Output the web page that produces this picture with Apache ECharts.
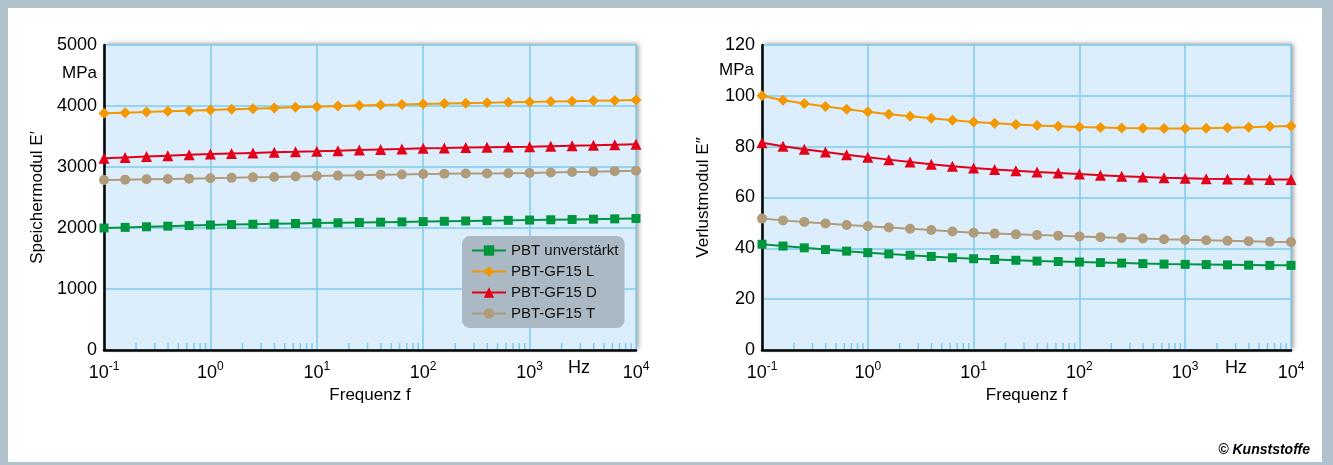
<!DOCTYPE html>
<html><head><meta charset="utf-8">
<script src="https://cdn.jsdelivr.net/npm/echarts@6/dist/echarts.min.js"></script>
<style>html,body{margin:0;padding:0;background:#fff}#c{width:1333px;height:465px}</style>
</head><body><div id="c"></div>
<script>
// ---- data ----
const freq = [0.1,0.158,0.251,0.398,0.631,1,1.58,2.51,3.98,6.31,10,15.8,25.1,39.8,63.1,100,158,251,398,631,1000,1580,2510,3980,6310,10000];
const minorTicks = [0.2,0.3,0.4,0.5,0.6,0.7,0.8,0.9, 2,3,4,5,6,7,8,9, 20,30,40,50,60,70,80,90, 200,300,400,500,600,700,800,900, 2000,3000,4000,5000,6000,7000,8000,9000];
const seriesNames = ['PBT unverstärkt','PBT-GF15 L','PBT-GF15 D','PBT-GF15 T'];
// Speichermodul E' (MPa)
const storGreen  = [2000,2010,2020,2030,2040,2050,2056,2062,2068,2074,2080,2085,2090,2095,2100,2105,2110,2115,2120,2125,2130,2135,2140,2145,2150,2155];
const storOrange = [3880,3891,3902,3912,3923,3934,3945,3956,3967,3978,3989,3998,4007,4016,4025,4033,4040,4047,4053,4060,4066,4072,4079,4085,4092,4098];
const storRed    = [3143,3157,3171,3185,3199,3213,3222,3231,3240,3248,3257,3267,3277,3287,3297,3307,3312,3318,3323,3328,3333,3341,3349,3356,3364,3372];
const storTan    = [2787,2793,2798,2804,2809,2815,2822,2830,2837,2845,2852,2859,2865,2872,2878,2885,2888,2892,2895,2899,2902,2909,2917,2924,2932,2939];
// Verlustmodul E'' (MPa)
const lossGreen  = [41.6,40.9,40.2,39.5,38.9,38.3,37.8,37.3,36.8,36.3,35.9,35.6,35.3,35.0,34.8,34.6,34.4,34.2,34.0,33.8,33.7,33.6,33.5,33.4,33.3,33.3];
const lossOrange = [100,98.3,97.0,95.8,94.7,93.7,92.8,92.0,91.2,90.4,89.7,89.2,88.7,88.3,88.0,87.7,87.5,87.3,87.2,87.1,87.1,87.2,87.4,87.6,87.9,88.1];
const lossRed    = [81.5,80.2,79.0,77.9,76.8,75.8,74.9,74.0,73.1,72.3,71.6,71.0,70.5,70.0,69.6,69.2,68.8,68.4,68.1,67.8,67.6,67.4,67.3,67.2,67.1,67.1];
const lossTan    = [51.7,51.0,50.4,49.8,49.2,48.7,48.2,47.7,47.2,46.6,46.1,45.8,45.5,45.2,45.0,44.7,44.4,44.1,43.9,43.6,43.4,43.2,43.0,42.8,42.6,42.5];
const leftYTicks = {min:0, max:5000, interval:1000};
const rightYTicks = {min:0, max:120, interval:20};

// ---- styling ----
const FONT = '"Liberation Sans Narrow","Liberation Sans",Arial,sans-serif';
const colors = ['#00963f','#f39800','#e2001a','#b09c7a'];
const symbols = ['rect','diamond','triangle','circle'];
const symSizes = [9,11,11,10];
const gridLine = '#7ccbee';

function pairs(vals){ return freq.map((f,i)=>[f, vals[i]]); }

function xAxis(gi){
  return {
    type:'log', logBase:10, min:0.1, max:10000, splitNumber:5, gridIndex:gi,
    axisLine:{show:true, onZero:false, lineStyle:{color:'#000', width:2.5}},
    axisTick:{show:false},
    splitLine:{show:true, lineStyle:{color:gridLine, width:1.5}},
    axisLabel:{
      margin:10, color:'#000',
      formatter:function(v){ const e=Math.round(Math.log10(v)); return '{a|10}{s|'+e+'}'; },
      rich:{ a:{fontSize:18, fontFamily:FONT, color:'#000', verticalAlign:'bottom', lineHeight:22},
             s:{fontSize:12, fontFamily:FONT, color:'#000', verticalAlign:'bottom', lineHeight:22, padding:[0,0,9,0]} }
    },
    name:'Frequenz f', nameLocation:'middle', nameGap:37,
    nameTextStyle:{fontSize:17, fontFamily:FONT, color:'#000'}
  };
}
function yAxis(gi, t, name, gap){
  return {
    type:'value', gridIndex:gi, min:t.min, max:t.max, interval:t.interval,
    axisLine:{show:true, lineStyle:{color:'#000', width:2.5}},
    axisTick:{show:false},
    splitLine:{show:true, lineStyle:{color:gridLine, width:1.5}},
    axisLabel:{fontSize:18, fontFamily:FONT, color:'#000', margin:7, formatter:function(v){ return String(v); }},
    name:name, nameLocation:'middle', nameGap:gap, nameRotate:90,
    nameTextStyle:{fontSize:17, fontFamily:FONT, color:'#000'}
  };
}
function lineSeries(idx, vals, gi){
  return {
    name:seriesNames[idx], type:'line', xAxisIndex:gi, yAxisIndex:gi,
    data:pairs(vals), symbol:symbols[idx], symbolSize:symSizes[idx], showSymbol:true,
    color:colors[idx], lineStyle:{width:2, color:colors[idx]}, itemStyle:{color:colors[idx]},
    z:5, animation:false
  };
}
function minorSeries(gi){
  return {
    type:'custom', xAxisIndex:gi, yAxisIndex:gi, silent:true, z:3, animation:false,
    data:minorTicks.map(f=>[f,0]),
    renderItem:function(params, api){
      const p = api.coord([api.value(0), 0]);
      return {type:'line', shape:{x1:p[0], y1:p[1]-1, x2:p[0], y2:p[1]-7}, style:{stroke:gridLine, lineWidth:1.5}};
    }
  };
}

const gridCommon = {show:true, backgroundColor:'#dceefb', borderWidth:0,
  shadowColor:'rgba(0,0,0,0.45)', shadowBlur:5, shadowOffsetX:2, shadowOffsetY:-1};

const option = {
  animation:false,
  textStyle:{fontFamily:FONT},
  grid:[
    Object.assign({left:104, top:45, width:532, height:305}, gridCommon),
    Object.assign({left:762, top:45, width:529, height:305}, gridCommon)
  ],
  xAxis:[xAxis(0), xAxis(1)],
  yAxis:[yAxis(0, leftYTicks, 'Speichermodul E′', 58), yAxis(1, rightYTicks, 'Verlustmodul E″', 50)],
  legend:{
    data:seriesNames, orient:'vertical', left:462, top:236,
    backgroundColor:'#aab9c3', borderRadius:8, padding:[7,6,7,9],
    itemWidth:34, itemHeight:13, itemGap:6,
    textStyle:{fontSize:15, fontFamily:FONT, color:'#111'}
  },
  graphic:[
    {type:'rect', z:-10, shape:{x:0,y:0,width:1333,height:465}, style:{fill:'#b2c2cc'}, silent:true},
    {type:'rect', z:-9, shape:{x:8,y:8,width:1314,height:454}, style:{fill:'#ffffff'}, silent:true},
    {type:'text', left:62, top:65, style:{text:'MPa', fontSize:17, fontFamily:FONT, fill:'#000'}},
    {type:'text', left:719, top:62, style:{text:'MPa', fontSize:17, fontFamily:FONT, fill:'#000'}},
    {type:'text', left:568, top:359, style:{text:'Hz', fontSize:18, fontFamily:FONT, fill:'#000'}},
    {type:'text', left:1225, top:359, style:{text:'Hz', fontSize:18, fontFamily:FONT, fill:'#000'}},
    {type:'text', right:23, top:443, style:{text:'© Kunststoffe', fontSize:14, fontWeight:'bold', fontStyle:'italic', fontFamily:FONT, fill:'#000'}}
  ],
  series:[
    minorSeries(0), minorSeries(1),
    lineSeries(0, storGreen, 0), lineSeries(1, storOrange, 0), lineSeries(2, storRed, 0), lineSeries(3, storTan, 0),
    lineSeries(0, lossGreen, 1), lineSeries(1, lossOrange, 1), lineSeries(2, lossRed, 1), lineSeries(3, lossTan, 1)
  ]
};
const chart = echarts.init(document.getElementById('c'), null, {renderer:'canvas'});
chart.setOption(option);
</script></body></html>
